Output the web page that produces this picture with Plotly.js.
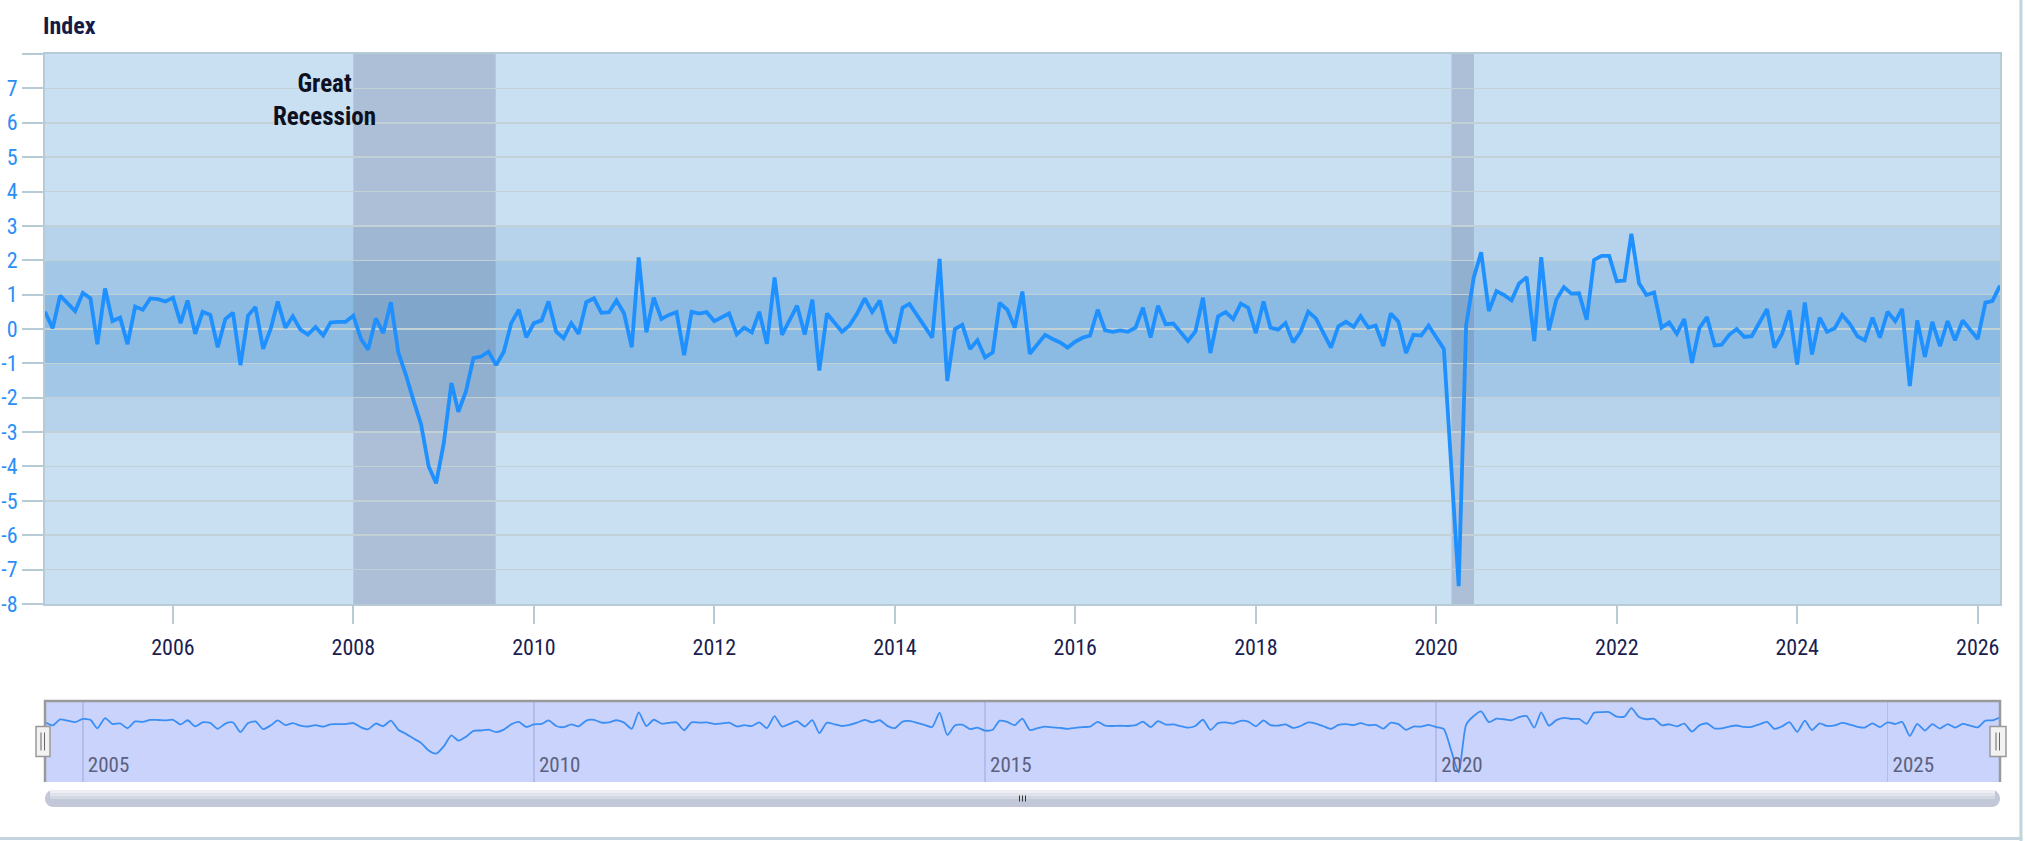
<!DOCTYPE html>
<html><head><meta charset="utf-8">
<script src="https://cdn.plot.ly/plotly-3.0.1.min.js"></script>
<style>html,body{margin:0;padding:0;background:#fff;}#chart{width:2025px;height:841px;}</style>
</head><body><div id="chart"></div>
<script>
// ---- data ----
const startYear = 2004, startMonth = 8; // first observation: Aug 2004, monthly
const indexValues = [
 0.5, 0.02, 0.97, 0.76, 0.52,                                   // 2004 Aug-Dec
 1.05, 0.89, -0.44, 1.18, 0.23, 0.33, -0.44, 0.65, 0.56, 0.89, 0.87, 0.8,      // 2005
 0.91, 0.17, 0.83, -0.14, 0.5, 0.41, -0.53, 0.29, 0.47, -1.05, 0.39, 0.64,     // 2006
 -0.58, 0.02, 0.8, 0.04, 0.37, -0.02, -0.16, 0.06, -0.19, 0.19, 0.21, 0.21,    // 2007
 0.39, -0.29, -0.6, 0.31, -0.12, 0.78, -0.68, -1.34, -2.09, -2.77, -4.0, -4.49,// 2008
 -3.32, -1.57, -2.41, -1.81, -0.85, -0.8, -0.66, -1.05, -0.66, 0.17, 0.56, -0.24, // 2009
 0.17, 0.25, 0.8, -0.08, -0.27, 0.17, -0.14, 0.78, 0.89, 0.47, 0.49, 0.83,     // 2010
 0.45, -0.53, 2.08, -0.1, 0.91, 0.29, 0.41, 0.49, -0.76, 0.5, 0.45, 0.49,      // 2011
 0.23, 0.33, 0.45, -0.16, 0.04, -0.1, 0.5, -0.43, 1.5, -0.17, 0.25, 0.68,      // 2012
 -0.16, 0.85, -1.21, 0.45, 0.19, -0.08, 0.1, 0.45, 0.89, 0.49, 0.83, -0.06,    // 2013
 -0.41, 0.62, 0.73, 0.41, 0.08, -0.25, 2.04, -1.51, 0.0, 0.12, -0.58, -0.33,   // 2014
 -0.83, -0.68, 0.76, 0.56, 0.04, 1.09, -0.72, -0.43, -0.17, -0.29, -0.39, -0.54, // 2015
 -0.37, -0.25, -0.19, 0.56, -0.04, -0.08, -0.04, -0.08, 0.04, 0.62, -0.25, 0.68, // 2016
 0.14, 0.16, -0.1, -0.35, -0.08, 0.91, -0.7, 0.37, 0.49, 0.29, 0.74, 0.62,     // 2017
 -0.12, 0.8, 0.04, -0.02, 0.17, -0.39, -0.08, 0.5, 0.31, -0.12, -0.54, 0.08,   // 2018
 0.21, 0.06, 0.37, 0.04, 0.1, -0.5, 0.45, 0.21, -0.7, -0.17, -0.19, 0.1,       // 2019
 -0.25, -0.58, -3.9, -7.48, 0.1, 1.5, 2.23, 0.52, 1.1, 0.99, 0.83, 1.32,       // 2020
 1.51, -0.35, 2.09, -0.04, 0.85, 1.22, 1.03, 1.04, 0.27, 2.01, 2.13, 2.13,     // 2021
 1.39, 1.41, 2.77, 1.33, 0.99, 1.06, 0.04, 0.19, -0.14, 0.29, -0.99, 0.02,     // 2022
 0.35, -0.48, -0.46, -0.17, 0.0, -0.23, -0.21, 0.19, 0.58, -0.54, -0.14, 0.54, // 2023
 -1.03, 0.77, -0.74, 0.33, -0.08, 0.02, 0.41, 0.15, -0.21, -0.33, 0.33, -0.25, // 2024
 0.5, 0.23, 0.58, -1.66, 0.25, -0.81, 0.21, -0.5, 0.23, -0.33, 0.25, -0.02,    // 2025
 -0.29, 0.77, 0.81, 1.26                                        // 2026 Jan-Apr
];
const recessionNames  = ['Great Recession', 'COVID-19'];
const recessionStarts = ['2008-01-01', '2020-03-03'];
const recessionEnds   = ['2009-07-30', '2020-06-02'];
const recessionLabelX = ['2007-09-08'];
const yTickValues = [-8,-7,-6,-5,-4,-3,-2,-1,0,1,2,3,4,5,6,7,8];
const xTickYears  = [2006,2008,2010,2012,2014,2016,2018,2020,2022,2024,2026];
const navTickYears = [2005,2010,2015,2020,2025];
const bandLimits = [3, 2, 1];
const bandColors = ['#b7d3ec', '#a2c7e7', '#8bbae3'];

// ---- build ----
const months = indexValues.map((v, i) => {
  const m = startMonth - 1 + i;
  const y = startYear + Math.floor(m / 12);
  const mm = (m % 12) + 1;
  return y + '-' + String(mm).padStart(2, '0') + '-01';
});
const xRange = [months[0], months[months.length - 1]];
const FONT = 'Roboto Condensed, Roboto, sans-serif';

const traces = [
  {x: months, y: indexValues, type: 'scatter', mode: 'lines',
   line: {color: '#1e90ff', width: 3.8}, xaxis: 'x', yaxis: 'y', hoverinfo: 'skip'},
  {x: months, y: indexValues, type: 'scatter', mode: 'lines',
   line: {color: '#3b8ef3', width: 1.8, shape: 'spline', smoothing: 0.6}, xaxis: 'x2', yaxis: 'y2', hoverinfo: 'skip'}
];

const shapes = [];
bandLimits.forEach((b, i) => shapes.push({type: 'rect', layer: 'below', xref: 'x domain', yref: 'y',
  x0: 0, x1: 1, y0: -b, y1: b, fillcolor: bandColors[i], line: {width: 0}}));
recessionStarts.forEach((s, i) => shapes.push({type: 'rect', layer: 'below', xref: 'x', yref: 'y domain',
  x0: s, x1: recessionEnds[i], y0: 0, y1: 1, fillcolor: 'rgba(105,120,150,0.30)', line: {width: 0}}));
// navigator background + outline
shapes.push({type: 'rect', layer: 'below', xref: 'x2 domain', yref: 'y2 domain', x0: 0, x1: 1, y0: 0, y1: 1,
  fillcolor: '#cad3fb', line: {width: 0}});
shapes.push({type: 'path', layer: 'above', xref: 'x2 domain', yref: 'y2 domain',
  path: 'M 0,0 L 0,1 L 1,1 L 1,0', line: {color: '#9a9a9a', width: 2.5}});
// navigator handles
[[0, -9, 5], [1, -10, 6]].forEach(h => {
  shapes.push({type: 'rect', layer: 'above', xref: 'x2 domain', yref: 'y2 domain',
    xsizemode: 'pixel', xanchor: h[0], x0: h[1], x1: h[2],
    ysizemode: 'pixel', yanchor: 0.5, y0: -15, y1: 15,
    fillcolor: '#f2f2f2', line: {color: '#999999', width: 1.5}});
  const c = (h[1] + h[2]) / 2;
  [c - 2, c + 1.5].forEach(xx => shapes.push({type: 'line', layer: 'above', xref: 'x2 domain', yref: 'y2 domain',
    xsizemode: 'pixel', xanchor: h[0], x0: xx, x1: xx,
    ysizemode: 'pixel', yanchor: 0.5, y0: -9, y1: 9, line: {color: '#666666', width: 1}}));
});
// scrollbar (pixels relative to paper bottom-left)
const W = 1955, H = 17, R = 8.5, K = R * 1.33;
shapes.push({type: 'path', layer: 'above', xref: 'paper', yref: 'paper', xsizemode: 'pixel', ysizemode: 'pixel',
  xanchor: 0, yanchor: 0,
  path: `M ${R},0 L ${W - R},0 C ${W - R + K},0 ${W - R + K},${H} ${W - R},${H} L ${R},${H} C ${R - K},${H} ${R - K},0 ${R},0 Z`,
  fillcolor: '#c3c8d8', line: {width: 0}});
[[8, 11, '#d3d7e2'], [11, 14, '#e0e3eb'], [14, 17, '#eceef3']].forEach(s => shapes.push({type: 'rect', layer: 'above',
  xref: 'paper', yref: 'paper', xsizemode: 'pixel', ysizemode: 'pixel', xanchor: 0, yanchor: 0,
  x0: 5, x1: W - 5, y0: s[0], y1: s[1], fillcolor: s[2], line: {width: 0}}));
[-3, 0, 3].forEach(dx => shapes.push({type: 'line', layer: 'above', xref: 'paper', yref: 'paper',
  xsizemode: 'pixel', ysizemode: 'pixel', xanchor: 0.5, yanchor: 0, x0: dx, x1: dx, y0: 5.5, y1: 11.5,
  line: {color: '#333333', width: 1}}));
// container borders
shapes.push({type: 'line', layer: 'above', xref: 'paper', yref: 'paper', x0: 1.0107, x1: 1.0107, y0: -0.06, y1: 1.08,
  line: {color: '#c4d4dc', width: 3}});
shapes.push({type: 'line', layer: 'above', xref: 'paper', yref: 'paper', x0: -0.03, x1: 1.0115, y0: -0.0418, y1: -0.0418,
  line: {color: '#c4d4dc', width: 3}});

const annotations = [
  {xref: 'paper', yref: 'paper', x: -0.002, y: 1.0372, xanchor: 'left', yanchor: 'middle', showarrow: false,
   text: '<b>Index</b>', font: {size: 24, color: '#151b48', family: FONT}},
  {xref: 'x', yref: 'y', x: recessionLabelX[0], y: 6.66, xanchor: 'center', yanchor: 'middle', showarrow: false,
   text: '<b>' + recessionNames[0].replace(' ', '<br>') + '</b>', align: 'center',
   font: {size: 25, color: '#0d1020', family: FONT}}
];

const axisLine = '#b7cbd6';
const layout = {
  width: 2025, height: 841,
  margin: {l: 45, r: 25, t: 54, b: 34},
  paper_bgcolor: '#ffffff', plot_bgcolor: '#c9dff2',
  font: {family: FONT},
  showlegend: false, hovermode: false,
  xaxis: {domain: [0, 1], anchor: 'y', type: 'date', range: xRange,
    tickmode: 'array', tickvals: xTickYears.map(y => y + '-01-01'), ticktext: xTickYears.map(String),
    ticks: 'outside', ticklen: 18, tickwidth: 2, tickcolor: axisLine,
    showgrid: false, zeroline: false, showline: true, linecolor: axisLine, linewidth: 2, mirror: true,
    tickfont: {size: 22, color: '#1a2150'}, ticklabelstandoff: 5, fixedrange: true},
  yaxis: {domain: [0.2696, 1], anchor: 'x', range: [-8, 8],
    tickmode: 'array', tickvals: yTickValues, ticktext: yTickValues.map(v => v === 8 ? '' : String(v)),
    ticks: 'outside', ticklen: 21, tickwidth: 2, tickcolor: axisLine,
    showgrid: true, gridcolor: '#c2d1d6', gridwidth: 1.5, zeroline: false,
    showline: true, linecolor: axisLine, linewidth: 2, mirror: true,
    tickfont: {size: 22, color: '#2b8ef6'}, fixedrange: true},
  xaxis2: {domain: [0, 1], anchor: 'y2', type: 'date', range: xRange,
    tickmode: 'array', tickvals: navTickYears.map(y => y + '-01-01'), ticktext: navTickYears.map(String),
    ticks: '', showgrid: true, gridcolor: '#b4bde9', gridwidth: 1.5, zeroline: false, showline: false,
    ticklabelposition: 'inside right', ticklabelshift: 5, tickfont: {size: 21, color: '#5b6180'}, fixedrange: true},
  yaxis2: {domain: [0.0332, 0.1408], anchor: 'x2', range: [-9, 3.9], visible: false, fixedrange: true},
  shapes: shapes, annotations: annotations
};

Plotly.newPlot('chart', traces, layout, {displayModeBar: false, staticPlot: true});
</script></body></html>
